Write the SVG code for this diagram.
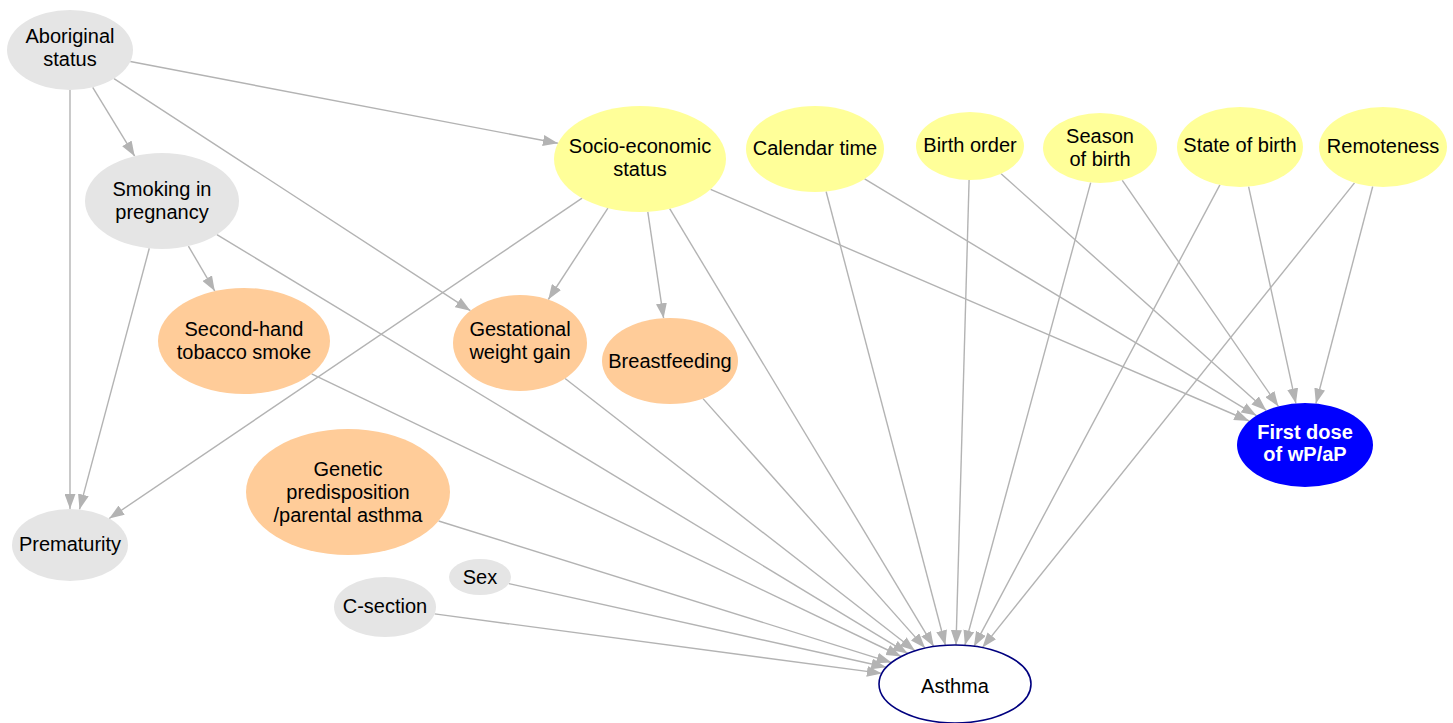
<svg xmlns="http://www.w3.org/2000/svg" width="1453" height="723" viewBox="0 0 1453 723">
<style>
  text { font-family: "Liberation Sans", Arial, sans-serif; font-size: 20px; fill: #000; text-anchor: middle; }
  .g { fill: #e5e5e5; stroke: none; }
  .y { fill: #ffff99; stroke: none; }
  .o { fill: #ffcc99; stroke: none; }
  .b { fill: #0000ff; stroke: none; }
  .w { fill: #ffffff; stroke: #00007f; stroke-width: 1.6; }
  .wt { fill: #ffffff; font-weight: bold; }
  #edges line { stroke: #b3b3b3; stroke-width: 1.4; fill: none; marker-end: url(#ah); }
</style>
<defs>
  <marker id="ah" markerWidth="15" markerHeight="11" refX="15" refY="5.5" orient="auto" markerUnits="userSpaceOnUse">
    <path d="M0,0 L15,5.5 L0,11 z" fill="#b3b3b3"/>
  </marker>
</defs>
<rect width="1453" height="723" fill="#ffffff"/>

<g id="edges">
  <line x1="70" y1="90" x2="70" y2="509"/>
  <line x1="92.7" y1="87.3" x2="134.7" y2="156.2"/>
  <line x1="114" y1="78.6" x2="470.4" y2="310.7"/>
  <line x1="130.3" y1="61.5" x2="557.9" y2="143.3"/>
  <line x1="188.4" y1="246.1" x2="214.8" y2="291.1"/>
  <line x1="149.3" y1="248.3" x2="79.5" y2="509.4"/>
  <line x1="216.9" y1="234.6" x2="907.7" y2="653.4"/>
  <line x1="582.1" y1="198.2" x2="109.2" y2="518.5"/>
  <line x1="607.9" y1="208.2" x2="548.3" y2="299.5"/>
  <line x1="647.8" y1="211.8" x2="663.6" y2="318.2"/>
  <line x1="669.7" y1="208.7" x2="933.8" y2="646.6"/>
  <line x1="710.6" y1="189.3" x2="1249.2" y2="421"/>
  <line x1="826.1" y1="191.5" x2="945.4" y2="645.3"/>
  <line x1="864.6" y1="178.9" x2="1256.4" y2="415.6"/>
  <line x1="969.1" y1="180" x2="956" y2="645.1"/>
  <line x1="1001.1" y1="173.8" x2="1266.3" y2="410.4"/>
  <line x1="1090.7" y1="182.6" x2="964.9" y2="645.3"/>
  <line x1="1122.3" y1="180.3" x2="1278.4" y2="406.4"/>
  <line x1="1219.9" y1="184.9" x2="973.9" y2="646.6"/>
  <line x1="1248.6" y1="186.7" x2="1295.9" y2="403.4"/>
  <line x1="1354.5" y1="182.9" x2="982.4" y2="647.6"/>
  <line x1="1372.7" y1="186.5" x2="1315.9" y2="403.5"/>
  <line x1="311.6" y1="373.8" x2="901.2" y2="656.5"/>
  <line x1="565.1" y1="378.5" x2="915" y2="650.8"/>
  <line x1="703" y1="398.6" x2="925.1" y2="648.1"/>
  <line x1="438.6" y1="521" x2="891.5" y2="662.6"/>
  <line x1="508.9" y1="583.6" x2="886.3" y2="667.3"/>
  <line x1="434.6" y1="613.9" x2="881.9" y2="673.4"/>
</g>

<g id="aboriginal">
  <ellipse class="g" cx="70" cy="50" rx="63" ry="40"/>
  <text x="70" y="43">Aboriginal</text>
  <text x="70" y="66">status</text>
</g>
<g id="smoking">
  <ellipse class="g" cx="162" cy="201" rx="77" ry="48"/>
  <text x="162" y="196">Smoking in</text>
  <text x="162" y="219">pregnancy</text>
</g>
<g id="ses">
  <ellipse class="y" cx="640" cy="159" rx="86" ry="53"/>
  <text x="640" y="153">Socio-economic</text>
  <text x="640" y="176">status</text>
</g>
<g id="calendar">
  <ellipse class="y" cx="815" cy="149" rx="69" ry="43"/>
  <text x="815" y="155">Calendar time</text>
</g>
<g id="birthorder">
  <ellipse class="y" cx="970" cy="146" rx="54" ry="34"/>
  <text x="970" y="152">Birth order</text>
</g>
<g id="season">
  <ellipse class="y" cx="1100" cy="148" rx="57" ry="35"/>
  <text x="1100" y="143">Season</text>
  <text x="1100" y="166">of birth</text>
</g>
<g id="state">
  <ellipse class="y" cx="1240" cy="147" rx="63" ry="40"/>
  <text x="1240" y="152">State of birth</text>
</g>
<g id="remoteness">
  <ellipse class="y" cx="1383" cy="147" rx="64" ry="40"/>
  <text x="1383" y="153">Remoteness</text>
</g>
<g id="secondhand">
  <ellipse class="o" cx="244" cy="341" rx="86" ry="53"/>
  <text x="244" y="336">Second-hand</text>
  <text x="244" y="359">tobacco smoke</text>
</g>
<g id="gestational">
  <ellipse class="o" cx="520" cy="343" rx="67" ry="48"/>
  <text x="520" y="336">Gestational</text>
  <text x="520" y="359">weight gain</text>
</g>
<g id="breastfeeding">
  <ellipse class="o" cx="670" cy="361" rx="68" ry="43"/>
  <text x="670" y="368">Breastfeeding</text>
</g>
<g id="genetic">
  <ellipse class="o" cx="348" cy="492" rx="102" ry="63"/>
  <text x="348" y="476">Genetic</text>
  <text x="348" y="499">predisposition</text>
  <text x="348" y="522">/parental asthma</text>
</g>
<g id="prematurity">
  <ellipse class="g" cx="70" cy="545" rx="58" ry="36"/>
  <text x="70" y="551">Prematurity</text>
</g>
<g id="sex">
  <ellipse class="g" cx="480" cy="577" rx="31" ry="18"/>
  <text x="480" y="584">Sex</text>
</g>
<g id="csection">
  <ellipse class="g" cx="385" cy="607" rx="51" ry="30"/>
  <text x="385" y="613">C-section</text>
</g>
<g id="firstdose">
  <ellipse class="b" cx="1305" cy="445" rx="68" ry="42"/>
  <text class="wt" x="1305" y="439">First dose</text>
  <text class="wt" x="1305" y="461">of wP/aP</text>
</g>
<g id="asthma">
  <ellipse class="w" cx="955" cy="684" rx="76" ry="39"/>
  <text x="955" y="693">Asthma</text>
</g>
</svg>
